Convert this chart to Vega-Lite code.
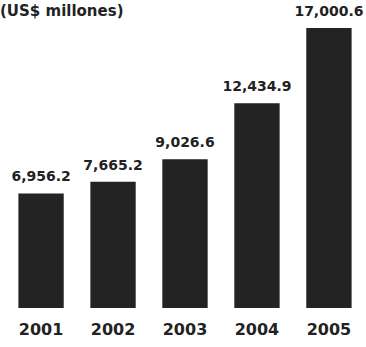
{
  "$schema": "https://vega.github.io/schema/vega-lite/v6.json",
  "autosize": "none",
  "width": 362,
  "height": 280,
  "padding": {"left": 4, "top": 28, "right": 0, "bottom": 39},
  "background": "white",
  "title": {
    "text": "(US$ millones)",
    "anchor": "start",
    "frame": "group",
    "orient": "top",
    "offset": -14,
    "dx": -4,
    "fontSize": 15,
    "font": "DejaVu Sans",
    "fontWeight": "bold",
    "color": "#222"
  },
  "data": {
    "values": [
      {"year": "2001", "value": 6956.2},
      {"year": "2002", "value": 7665.2},
      {"year": "2003", "value": 9026.6},
      {"year": "2004", "value": 12434.9},
      {"year": "2005", "value": 17000.6}
    ]
  },
  "encoding": {
    "x": {
      "field": "year",
      "type": "nominal",
      "scale": {"paddingInner": 0.37, "paddingOuter": 0.2},
      "axis": {
        "title": null,
        "labelAngle": 0,
        "domain": false,
        "ticks": false,
        "labelPadding": 13,
        "labelFontSize": 16,
        "labelFont": "DejaVu Sans",
        "labelFontWeight": "bold",
        "labelColor": "#222"
      }
    },
    "y": {
      "field": "value",
      "type": "quantitative",
      "scale": {"domain": [0, 17000.6], "nice": false},
      "axis": null
    }
  },
  "layer": [
    {"mark": {"type": "bar", "color": "#232323"}},
    {
      "mark": {"type": "text", "baseline": "bottom", "dy": -9, "fontSize": 14, "font": "DejaVu Sans", "fontWeight": "bold", "color": "#222"},
      "encoding": {"text": {"field": "value", "type": "quantitative", "format": ",.1f"}}
    }
  ],
  "config": {"view": {"stroke": null}}
}
